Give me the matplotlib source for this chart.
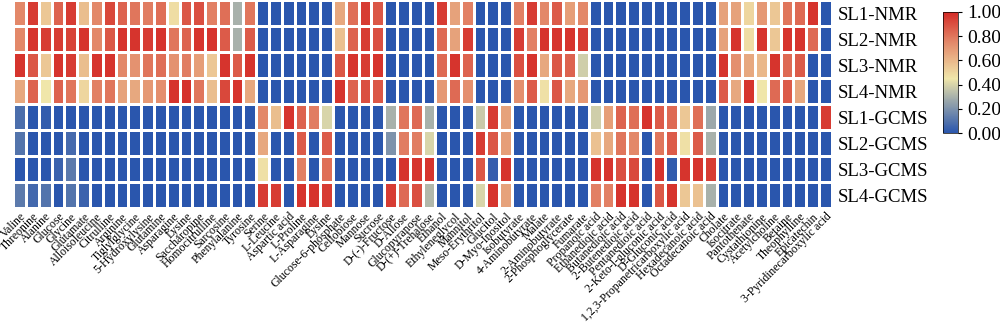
import numpy as np
import matplotlib
matplotlib.use("Agg")
import matplotlib.pyplot as plt
from matplotlib.colors import LinearSegmentedColormap

plt.rcParams["font.family"] = ["Liberation Serif", "DejaVu Serif"]

metabolites = [
    "Valine", "Threonine", "Alanine", "Glucose", "Glycine", "Glutamate", "Alloisoleucine",
    "Citrulline", "Arginine", "Tiglylglycine", "5-Hydroxylysine", "Glutamine", "Asparagine",
    "Lysine", "Saccharopine", "Homocitrulline", "Sarcosine", "Phenylalanine", "Tyrosine",
    "Serine", "L-Leucine", "Aspartic acid", "L-Proline", "L-Asparagine", "Lysine",
    "Glucose-6-phosphate", "Cellobiose", "Mannose", "Sucrose", "D-(-)-Fructose", "D-Allose",
    "Glucopyranose", "D-(+)-Trehalose", "Ethanol", "Ethyleneglycol", "Mannitol",
    "Meso-Erythritol", "Glucitol", "D-Myo-Inositol", "Isobutyrate", "4-Aminobutyrate",
    "Malate", "2-Aminobutyrate", "2-Phosphoglycerate", "Fumarate", "Propanoic acid",
    "Ethanedioic acid", "Butanedioic acid", "2-Butenedioic acid", "Pentanedioic acid",
    "2-Keto-l-gluconic acid", "D-Gluconic acid", "1,2,3-Propanetricarboxylic acid",
    "Hexadecanoic acid", "Octadecanoic acid", "Cholate", "Isocitrate", "Pantothenate",
    "Cystathionine", "Acetylcholine", "Betaine", "Theophylline", "Epicatechin",
    "3-Pyridinecarboxylic acid",
]

samples = ["SL1-NMR", "SL2-NMR", "SL3-NMR", "SL4-NMR",
           "SL1-GCMS", "SL2-GCMS", "SL3-GCMS", "SL4-GCMS"]

# normalised abundance, one list per sample (64 metabolites each)
sl1_nmr = [0.75, 0.95, 0.55, 0.85, 0.95, 0.58, 0.75, 0.92, 0.85, 0.80, 0.78, 0.82, 0.48, 0.88, 0.90, 0.77, 0.82, 0.30, 0.80,
           0, 0, 0, 0, 0, 0,
           0.65, 0.82, 0.95, 0.88, 0, 0, 0, 0,
           0.95, 0.67, 0.77, 0, 0, 0,
           0.77, 0.95, 0.75, 0.87, 0.68, 0.75,
           0, 0, 0, 0, 0, 0, 0, 0, 0, 0,
           0.67, 0.67, 0.50, 0.70, 0.55, 0.80, 0.83, 0.97, 0]
sl2_nmr = [0.75, 0.97, 0.95, 0.95, 0.93, 0.97, 0.75, 0.88, 0.97, 0.97, 0.95, 0.97, 0.80, 0.85, 0.97, 0.97, 0.87, 0.30, 0.87,
           0, 0, 0, 0, 0, 0,
           0.57, 0.85, 0.95, 0.90, 0, 0, 0, 0,
           0.83, 0.67, 0.95, 0, 0, 0,
           0.95, 0.77, 0.97, 0.97, 0.97, 0.95,
           0, 0, 0, 0, 0, 0, 0, 0, 0, 0,
           0.67, 0.97, 0.48, 0.97, 0.55, 0.97, 0.97, 0.83, 0]
sl3_nmr = [0.97, 0.88, 0.55, 0.97, 0.95, 0.58, 0.97, 0.97, 0.75, 0.72, 0.80, 0.82, 0.72, 0.78, 0.68, 0.55, 0.97, 0.87, 0.97,
           0, 0, 0, 0, 0, 0,
           0.88, 0.97, 0.95, 0.97, 0, 0, 0, 0,
           0.83, 0.97, 0.85, 0, 0, 0,
           0.90, 0.97, 0.65, 0.88, 0.85, 0.38,
           0, 0, 0, 0, 0, 0, 0, 0, 0, 0,
           0.97, 0.73, 0.65, 0.60, 0.97, 0.83, 0.87, 0, 0]
sl4_nmr = [0.65, 0.85, 0.45, 0.85, 0.80, 0.50, 0.77, 0.80, 0.67, 0.65, 0.70, 0.73, 0.97, 0.98, 0.80, 0.58, 0.92, 0.97, 0.65,
           0, 0, 0, 0, 0, 0,
           0.97, 0.85, 0.90, 0.88, 0, 0, 0, 0,
           0.70, 0.83, 0.73, 0, 0, 0,
           0.73, 0.87, 0.47, 0.88, 0.65, 0.70,
           0, 0, 0, 0, 0, 0, 0, 0, 0, 0,
           0.87, 0.65, 0.97, 0.45, 0.83, 0.87, 0.65, 0, 0]
sl1_gcms = [0.08, 0, 0.02, 0, 0, 0, 0, 0, 0, 0, 0, 0, 0, 0, 0, 0, 0, 0, 0,
            0.75, 0.58, 0.97, 0.85, 0.78, 0.40,
            0, 0, 0, 0, 0.30, 0.80, 0.83, 0.30,
            0, 0, 0, 0.37, 0.95, 0.67,
            0, 0, 0, 0, 0, 0,
            0.38, 0.68, 0.85, 0.82, 0.97, 0.87, 0.83, 0.55, 0.82, 0.27,
            0, 0, 0, 0, 0, 0, 0, 0, 0.95]
sl2_gcms = [0.10, 0, 0, 0, 0.07, 0, 0, 0, 0, 0, 0, 0, 0, 0, 0, 0, 0, 0, 0,
            0.65, 0, 0, 0.87, 0, 0.87,
            0, 0, 0, 0, 0.20, 0.78, 0.78, 0.40,
            0, 0, 0, 0.95, 0.88, 0.68,
            0, 0, 0, 0, 0, 0,
            0.57, 0.65, 0.80, 0.75, 0, 0.80, 0.87, 0.47, 0.87, 0.30,
            0, 0, 0, 0, 0, 0, 0, 0, 0]
sl3_gcms = [0, 0, 0, 0.04, 0.12, 0, 0, 0, 0, 0, 0, 0, 0, 0, 0, 0, 0, 0, 0,
            0.47, 0, 0, 0.77, 0, 0.82,
            0, 0, 0, 0, 0, 0.97, 0.97, 0.97,
            0, 0, 0, 0.88, 0.03, 0.97,
            0, 0, 0, 0, 0, 0,
            0.97, 0.97, 0.90, 0.92, 0, 0.97, 0.02, 0.97, 0.97, 0.95,
            0, 0, 0, 0, 0, 0, 0, 0, 0]
sl4_gcms = [0.12, 0.06, 0.10, 0, 0.10, 0.04, 0, 0, 0, 0, 0, 0, 0, 0, 0, 0, 0, 0, 0,
            0.95, 0.95, 0, 0.97, 0.97, 0.95,
            0, 0, 0, 0, 0.95, 0.83, 0.90, 0.32,
            0, 0, 0, 0.40, 0.97, 0.67,
            0, 0, 0, 0, 0, 0,
            0.77, 0.77, 0.97, 0.97, 0, 0.88, 0.97, 0.55, 0.57, 0.30,
            0, 0, 0, 0, 0, 0, 0, 0, 0]

values = np.array([sl1_nmr, sl2_nmr, sl3_nmr, sl4_nmr,
                   sl1_gcms, sl2_gcms, sl3_gcms, sl4_gcms], dtype=float)

cmap = LinearSegmentedColormap.from_list(
    "blue_gray_red",
    [(0.0, "#2A56AD"), (0.28, "#A0ABAB"), (0.45, "#F0E6AA"),
     (0.75, "#E3896A"), (1.0, "#D42A26")],
)

fig = plt.figure(figsize=(10, 3.31), dpi=100)
ax = fig.add_axes([0.0133, 0.3716, 0.8184, 0.6284])
cax = fig.add_axes([0.943, 0.598, 0.015, 0.366])

mesh = ax.pcolormesh(values, cmap=cmap, vmin=0, vmax=1,
                     edgecolors="white", linewidth=0.9)
ax.set_xlim(0, values.shape[1])
ax.set_ylim(values.shape[0], 0)

ax.set_xticks(np.arange(values.shape[1]) + 0.5)
ax.set_xticklabels(metabolites, rotation=45, ha="right",
                   rotation_mode="anchor", fontsize=8.5)
ax.set_yticks(np.arange(values.shape[0]) + 0.5)
ax.set_yticklabels(samples, fontsize=13.5)
ax.yaxis.tick_right()
ax.tick_params(axis="both", length=0)
ax.tick_params(axis="x", pad=2)
ax.tick_params(axis="y", pad=4)
for s in ax.spines.values():
    s.set_visible(False)

cb = fig.colorbar(mesh, cax=cax, ticks=[0, 0.2, 0.4, 0.6, 0.8, 1.0])
cb.ax.set_yticklabels([f"{t:.2f}" for t in [0, 0.2, 0.4, 0.6, 0.8, 1.0]])
cb.ax.tick_params(labelsize=14, length=3, width=0.8)
cb.outline.set_linewidth(0.5)

fig.savefig("out.png", dpi=100)
